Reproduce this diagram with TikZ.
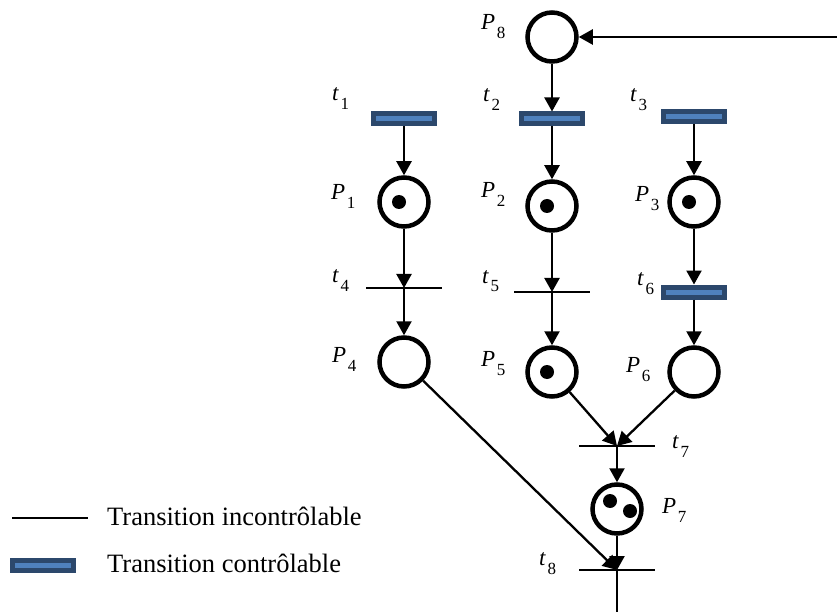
\documentclass[tikz,border=0pt]{standalone}
\usepackage{fontspec}
\setmainfont{Liberation Serif}
\usepackage{tikz}
\usetikzlibrary{arrows.meta}
\usepackage{xcolor}
\definecolor{ctrldark}{RGB}{44,72,108}
\definecolor{ctrllight}{RGB}{79,129,189}

\newcommand{\pname}[2]{\textit{#1}\kern1.5pt\raisebox{-9pt}{\fontsize{17}{17}\selectfont #2}}

\begin{document}
\begin{tikzpicture}[
    x=1pt, y=-1pt,
    place/.style={circle, draw, line width=4.5pt, minimum size=49pt, inner sep=0pt},
    tok/.style={circle, fill, minimum size=14pt, inner sep=0pt},
    tctrl/.style={rectangle, draw=ctrldark, fill=ctrllight, line width=5pt,
      minimum width=61pt, minimum height=10pt, inner sep=0pt},
    tfree/.style={rectangle, draw, line width=2pt, minimum width=74pt,
      minimum height=0.01pt, inner sep=0pt, outer sep=0pt},
    flow/.style={line width=2.3pt, -{Triangle[length=14pt,width=15pt]}},
    lbl/.style={anchor=base west, inner sep=0pt, font=\fontsize{23}{25}\selectfont},
    legend/.style={anchor=base west, inner sep=0pt, font=\fontsize{26.5}{30}\selectfont},
  ]

  \useasboundingbox (0,0) rectangle (837,612);

  % --- places ---
  \node[place] (P8) at (552,37) {};
  \node[place] (P1) at (404,202) {};
  \node[place] (P2) at (552,206) {};
  \node[place] (P3) at (694,202) {};
  \node[place] (P4) at (404,362) {};
  \node[place] (P5) at (552,372) {};
  \node[place] (P6) at (694,372) {};
  \node[place] (P7) at (617,509) {};

  % --- tokens ---
  \foreach \p in {1,2,3,5} {
    \node[tok, xshift=-5pt] (k\p) at (P\p) {};
  }
  \node[tok, xshift=-7pt, yshift=8pt] (k7a) at (P7) {};
  \node[tok, xshift=13pt, yshift=-2pt] (k7b) at (P7) {};

  % --- transitions ---
  \node[tctrl] (t1) at (404,119) {};
  \node[tctrl] (t2) at (552,119) {};
  \node[tctrl] (t3) at (694,117) {};
  \node[tfree] (t4) at (404,288) {};
  \node[tfree] (t5) at (552,292) {};
  \node[tctrl] (t6) at (694,292) {};
  \node[tfree] (t7) at (617,446) {};
  \node[tfree] (t8) at (617,570) {};

  % --- labels ---
  \node[lbl] (lP8) at (481,30) {\pname{P}{8}};
  \node[lbl] (lt1) at (332,101) {\pname{t}{1}};
  \node[lbl] (lt2) at (483,102) {\pname{t}{2}};
  \node[lbl] (lt3) at (630,102) {\pname{t}{3}};
  \node[lbl] (lP1) at (331,200) {\pname{P}{1}};
  \node[lbl] (lP2) at (481,198) {\pname{P}{2}};
  \node[lbl] (lP3) at (635,202) {\pname{P}{3}};
  \node[lbl] (lt4) at (332,282) {\pname{t}{4}};
  \node[lbl] (lt5) at (482,283) {\pname{t}{5}};
  \node[lbl] (lt6) at (637,285) {\pname{t}{6}};
  \node[lbl] (lP4) at (332,362) {\pname{P}{4}};
  \node[lbl] (lP5) at (481,366) {\pname{P}{5}};
  \node[lbl] (lP6) at (626,372) {\pname{P}{6}};
  \node[lbl] (lt7) at (672,448) {\pname{t}{7}};
  \node[lbl] (lP7) at (662,513) {\pname{P}{7}};
  \node[lbl] (lt8) at (539,565) {\pname{t}{8}};

  % --- arcs ---
  \coordinate (in8) at (837,37);
  \coordinate (out8) at (617,612);
  \draw[flow] (in8) -- (P8);
  \foreach \a/\b in {P8/t2, t1/P1, t2/P2, t3/P3, P1/t4, P2/t5, P3/t6,
                     t4/P4, t5/P5, t6/P6, P5/t7, P6/t7, t7/P7, P4/t8, P7/t8} {
    \draw[flow] (\a) -- (\b);
  }
  \draw[line width=2.3pt] (t8) -- (out8);

  % --- legend ---
  \node[tfree] (lgfree) at (50,518) {};
  \node[legend] (lgfreetxt) at (107,525) {Transition incontrôlable};
  \node[tctrl] (lgctrl) at (43,565) {};
  \node[legend] (lgctrltxt) at (107,572) {Transition contrôlable};

\end{tikzpicture}
\end{document}
